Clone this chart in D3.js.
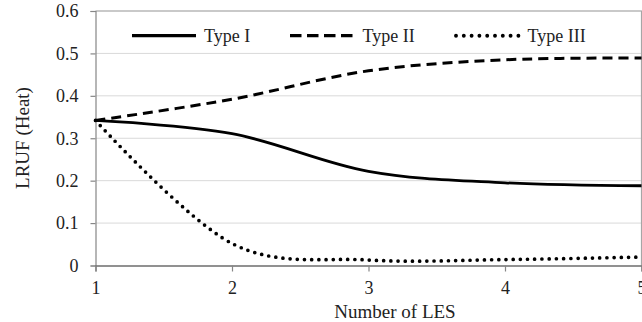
<!DOCTYPE html>
<html>
<head>
<meta charset="utf-8">
<script src="https://cdn.jsdelivr.net/npm/d3@7"></script>
<style>
  html, body { margin: 0; padding: 0; background: #fff; overflow: hidden; }
  svg { display: block; }
  svg text { font-family: 'Liberation Serif', 'DejaVu Serif', serif !important; fill: #222; }
</style>
</head>
<body>
<svg id="chart" width="642" height="322"></svg>
<script>
// Number of LES on the x axis
const lesCounts = [1, 2, 3, 4, 5];
// LRUF (Heat) for each configuration type
const typeI   = [0.342, 0.311, 0.222, 0.195, 0.188];
const typeII  = [0.342, 0.392, 0.459, 0.485, 0.489];
const typeIII = [0.342, 0.052, 0.013, 0.014, 0.020];
const seriesNames = ["Type I", "Type II", "Type III"];
const xTickValues = [1, 2, 3, 4, 5];
const yTickValues = [0, 0.1, 0.2, 0.3, 0.4, 0.5, 0.6];

const serif = "'Liberation Serif', 'DejaVu Serif', serif";
const svg = d3.select("#chart").style("font-family", serif);
const plotLeft = 95.5, plotRight = 641.5, plotTop = 11, plotBottom = 265.5;

const x = d3.scaleLinear().domain([1, 5]).range([plotLeft, plotRight]);
const y = d3.scaleLinear().domain([0, 0.6]).range([plotBottom, plotTop]);

// horizontal gridlines
svg.append("g")
  .selectAll("line")
  .data(yTickValues.filter(v => v > 0))
  .join("line")
  .attr("x1", plotLeft).attr("x2", plotRight)
  .attr("y1", d => y(d)).attr("y2", d => y(d))
  .attr("stroke", "#d9d9d9").attr("stroke-width", 1);

// plot frame (top and right)
svg.append("path")
  .attr("d", `M${plotLeft},${plotTop}H${plotRight}V${plotBottom}`)
  .attr("fill", "none").attr("stroke", "#a6a6a6").attr("stroke-width", 1.2);

// y axis
const yAxis = d3.axisLeft(y).tickValues(yTickValues)
  .tickFormat(d => d === 0 ? "0" : d3.format(".1f")(d))
  .tickSize(5).tickPadding(12);
const gy = svg.append("g").attr("transform", `translate(${plotLeft},0)`).call(yAxis)
  .attr("font-family", null).attr("font-size", null);
gy.select(".domain").attr("stroke", "#868686").attr("stroke-width", 1.2);
gy.selectAll(".tick line").attr("stroke", "#868686").attr("stroke-width", 1.2);
gy.selectAll(".tick text").style("font-family", serif).style("font-size", "18px").attr("fill", "#222");

// x axis
const xAxis = d3.axisBottom(x).tickValues(xTickValues)
  .tickFormat(d3.format("d")).tickSize(6).tickPadding(10);
const gx = svg.append("g").attr("transform", `translate(0,${plotBottom})`).call(xAxis)
  .attr("font-family", null).attr("font-size", null);
gx.select(".domain").attr("stroke", "#6e6e6e").attr("stroke-width", 1.3);
gx.selectAll(".tick line").attr("stroke", "#868686").attr("stroke-width", 1.2);
gx.selectAll(".tick text").style("font-family", serif).style("font-size", "18px").attr("fill", "#222");

// axis titles
svg.append("text")
  .attr("x", 395).attr("y", 318)
  .attr("text-anchor", "middle")
  .style("font-family", serif).style("font-size", "19px")
  .text("Number of LES");
svg.append("text")
  .attr("transform", "translate(29,138) rotate(-90)")
  .attr("text-anchor", "middle")
  .style("font-family", serif).style("font-size", "19px")
  .text("LRUF (Heat)");

// line styles
const styles = [
  { width: 2.8, dash: null, cap: "butt" },
  { width: 3.0, dash: "10,6", cap: "butt" },
  { width: 3.7, dash: "0,7.2", cap: "round" }
];
const legendDash = [null, "11.5,5.5", "0,7.8"];
const legendWidth = [3.3, 3.2, 3.9];

const line = d3.line()
  .x((d, i) => x(lesCounts[i]))
  .y(d => y(d))
  .curve(d3.curveCardinal.tension(0));

[typeI, typeII, typeIII].forEach((vals, k) => {
  svg.append("path")
    .datum(vals)
    .attr("d", line)
    .attr("fill", "none")
    .attr("stroke", "#000")
    .attr("stroke-width", styles[k].width)
    .attr("stroke-linecap", styles[k].cap)
    .attr("stroke-dasharray", styles[k].dash);
});

// legend
const legendItems = [
  { x1: 132, x2: 196, tx: 204 },
  { x1: 290, x2: 353, tx: 362.5 },
  { x1: 456, x2: 519, tx: 527.5 }
];
const legendY = 35.7;
legendItems.forEach((it, k) => {
  svg.append("line")
    .attr("x1", it.x1).attr("x2", it.x2)
    .attr("y1", legendY).attr("y2", legendY)
    .attr("stroke", "#000")
    .attr("stroke-width", legendWidth[k])
    .attr("stroke-linecap", styles[k].cap)
    .attr("stroke-dasharray", legendDash[k]);
  svg.append("text")
    .attr("x", it.tx).attr("y", legendY + 6)
    .style("font-family", serif).style("font-size", "18px")
    .text(seriesNames[k]);
});
</script>
</body>
</html>
